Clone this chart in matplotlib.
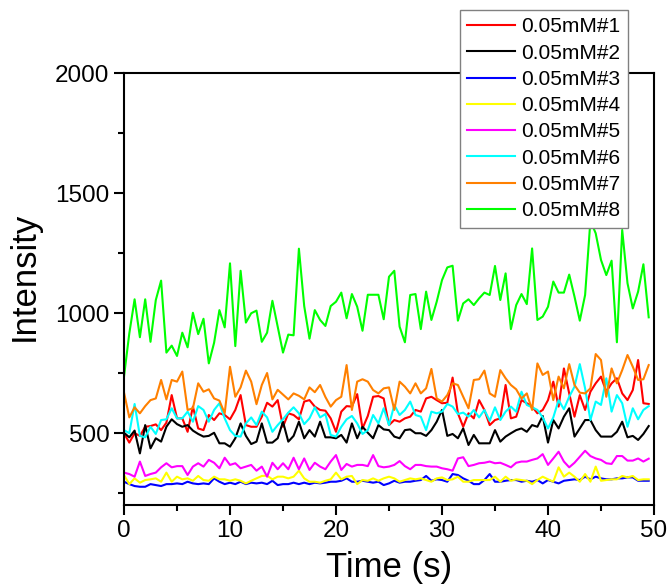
import numpy as np
import matplotlib
matplotlib.use("Agg")
import matplotlib.pyplot as plt

plt.rcParams['font.family'] = ['Liberation Sans', 'DejaVu Sans']

time = [i * 0.5 for i in range(100)]

s1 = [499, 460, 499, 488, 526, 529, 536, 512, 543, 658, 561, 561, 505, 610, 519, 512, 575, 554, 582, 575,
      557, 596, 658, 533, 526, 526, 568, 626, 610, 637, 526, 582, 575, 557, 631, 637, 610, 596, 593, 561,
      505, 589, 612, 610, 662, 519, 571, 651, 654, 644, 533, 554, 547, 561, 568, 596, 589, 644, 651, 637,
      624, 626, 731, 582, 526, 582, 561, 637, 596, 533, 554, 561, 700, 561, 568, 637, 624, 610, 582, 596,
      637, 714, 610, 769, 665, 568, 658, 596, 672, 707, 735, 672, 707, 728, 665, 637, 679, 804, 624, 621]

s2 = [501, 482, 510, 415, 533, 436, 478, 464, 526, 557, 537, 526, 533, 510, 496, 485, 488, 501, 457, 457,
      443, 478, 540, 488, 454, 464, 540, 460, 460, 478, 547, 464, 488, 547, 478, 512, 485, 547, 482, 482,
      478, 492, 460, 540, 478, 526, 501, 478, 533, 515, 512, 485, 478, 512, 515, 499, 499, 488, 512, 547,
      596, 488, 496, 478, 519, 450, 492, 457, 457, 457, 512, 464, 485, 499, 512, 519, 505, 533, 526, 571,
      460, 554, 519, 568, 603, 485, 519, 554, 554, 512, 485, 485, 485, 505, 547, 482, 488, 471, 496, 529]

s3 = [297, 287, 279, 276, 276, 287, 283, 279, 287, 287, 290, 287, 297, 290, 287, 290, 287, 311, 297, 287,
      293, 287, 297, 287, 293, 290, 293, 287, 301, 283, 287, 287, 293, 287, 293, 287, 293, 290, 293, 297,
      297, 301, 311, 297, 297, 301, 297, 293, 297, 283, 290, 301, 293, 297, 297, 301, 304, 321, 301, 307,
      304, 297, 329, 325, 311, 301, 287, 287, 304, 329, 297, 297, 301, 304, 304, 297, 301, 297, 304, 290,
      304, 297, 290, 301, 304, 307, 304, 318, 307, 318, 311, 307, 307, 311, 311, 315, 315, 301, 301, 301]

s4 = [325, 287, 311, 293, 304, 307, 311, 297, 335, 297, 318, 307, 311, 301, 321, 304, 301, 318, 307, 307,
      301, 307, 301, 290, 301, 311, 321, 322, 307, 318, 318, 311, 318, 343, 311, 297, 297, 293, 301, 307,
      335, 307, 318, 321, 287, 304, 301, 311, 301, 311, 318, 311, 297, 304, 311, 307, 311, 304, 297, 311,
      315, 304, 307, 318, 297, 297, 304, 304, 304, 304, 318, 297, 318, 301, 307, 304, 301, 287, 304, 318,
      307, 297, 357, 318, 335, 318, 297, 329, 297, 360, 301, 304, 307, 307, 321, 315, 321, 304, 307, 307]

s5 = [335, 329, 318, 381, 321, 329, 335, 357, 374, 357, 362, 362, 325, 360, 374, 360, 388, 376, 353, 397,
      367, 374, 353, 360, 367, 343, 360, 318, 376, 349, 374, 349, 397, 349, 394, 346, 376, 360, 349, 381,
      408, 346, 371, 360, 367, 367, 362, 408, 362, 357, 360, 367, 383, 362, 349, 367, 367, 362, 360, 360,
      353, 349, 343, 394, 399, 362, 367, 374, 376, 381, 374, 376, 367, 357, 376, 381, 381, 388, 394, 412,
      367, 394, 422, 381, 357, 376, 401, 426, 404, 394, 388, 374, 371, 404, 404, 385, 385, 394, 381, 393]

s6 = [512, 499, 621, 488, 482, 526, 496, 554, 557, 603, 561, 561, 589, 547, 612, 596, 547, 596, 624, 561,
      512, 488, 485, 540, 565, 533, 589, 565, 505, 533, 557, 585, 607, 582, 537, 561, 607, 565, 579, 492,
      485, 526, 557, 571, 540, 496, 512, 575, 540, 603, 533, 617, 575, 596, 631, 575, 568, 512, 589, 582,
      589, 621, 610, 579, 585, 568, 596, 565, 596, 551, 607, 554, 589, 610, 589, 672, 617, 607, 596, 565,
      519, 565, 637, 599, 651, 693, 787, 686, 554, 631, 617, 728, 589, 658, 624, 526, 603, 557, 596, 612]

s7 = [669, 565, 607, 582, 612, 637, 644, 721, 640, 721, 714, 756, 596, 603, 707, 672, 682, 644, 635, 582,
      776, 651, 690, 760, 714, 620, 700, 750, 640, 680, 660, 640, 665, 655, 640, 690, 670, 700, 650, 610,
      637, 651, 783, 596, 714, 724, 714, 679, 665, 686, 690, 596, 714, 693, 665, 707, 665, 686, 767, 644,
      631, 658, 707, 700, 651, 603, 721, 724, 760, 665, 651, 762, 728, 700, 682, 644, 665, 596, 790, 742,
      756, 637, 735, 686, 787, 700, 668, 665, 686, 829, 804, 651, 769, 707, 762, 825, 776, 721, 724, 783]

s8 = [735, 915, 1057, 899, 1057, 880, 1054, 1135, 835, 864, 821, 918, 857, 1001, 912, 976, 790, 876, 1012, 940,
      1207, 862, 1176, 960, 999, 1010, 880, 918, 1051, 943, 835, 910, 907, 1268, 1029, 893, 1012, 971, 946, 1029,
      1047, 1085, 978, 1079, 1026, 926, 1076, 1076, 1076, 974, 1151, 1176, 943, 878, 1075, 1079, 933, 1089, 971, 1047,
      1137, 1190, 1197, 968, 1040, 1057, 1033, 1061, 1085, 1075, 1196, 1054, 1165, 933, 1033, 1079, 1037, 1269, 971, 985,
      1026, 1131, 1085, 1085, 1160, 1068, 968, 1075, 1385, 1332, 1221, 1158, 1218, 878, 1346, 1124, 1019, 1089, 1203, 982]

labels = ['0.05mM#1', '0.05mM#2', '0.05mM#3', '0.05mM#4',
          '0.05mM#5', '0.05mM#6', '0.05mM#7', '0.05mM#8']
colors = ['#FF0000', '#000000', '#0000FF', '#FFFF00',
          '#FF00FF', '#00FFFF', '#FF8000', '#00FF00']
series = [s1, s2, s3, s4, s5, s6, s7, s8]

fig = plt.figure(figsize=(6.7, 5.86), dpi=100)
ax = fig.add_axes([124/670, 1-505/586, 530/670, 432/586])

for ys, c, lab in zip(series, colors, labels):
    ax.plot(time, ys, color=c, lw=1.5, label=lab)

ax.set_xlim(0, 50)
ax.set_ylim(200, 2000)
ax.set_xticks([0, 10, 20, 30, 40, 50])
ax.set_xticks(np.arange(5, 50, 10), minor=True)
ax.set_yticks([500, 1000, 1500, 2000])
ax.set_yticks([250, 750, 1250, 1750], minor=True)
ax.tick_params(which='both', direction='out', top=False, right=False, width=1.5, labelsize=17.5)
ax.tick_params(which='major', length=7)
ax.tick_params(which='minor', length=4.5)
for sp in ax.spines.values():
    sp.set_linewidth(1.5)

ax.set_xlabel('Time (s)', fontsize=25, labelpad=7)
ax.set_ylabel('Intensity', fontsize=25, labelpad=10)
ax.yaxis.label.set_y(0.53)

leg = fig.legend(loc='upper left', bbox_to_anchor=(460/670, 1-10/586),
                 fontsize=15, frameon=True, fancybox=False, framealpha=1,
                 edgecolor='#808080', borderpad=0.35, labelspacing=0.35,
                 handlelength=2.3, handletextpad=0.3, borderaxespad=0)
leg.get_frame().set_linewidth(1.0)

fig.savefig('out.png', dpi=100)
